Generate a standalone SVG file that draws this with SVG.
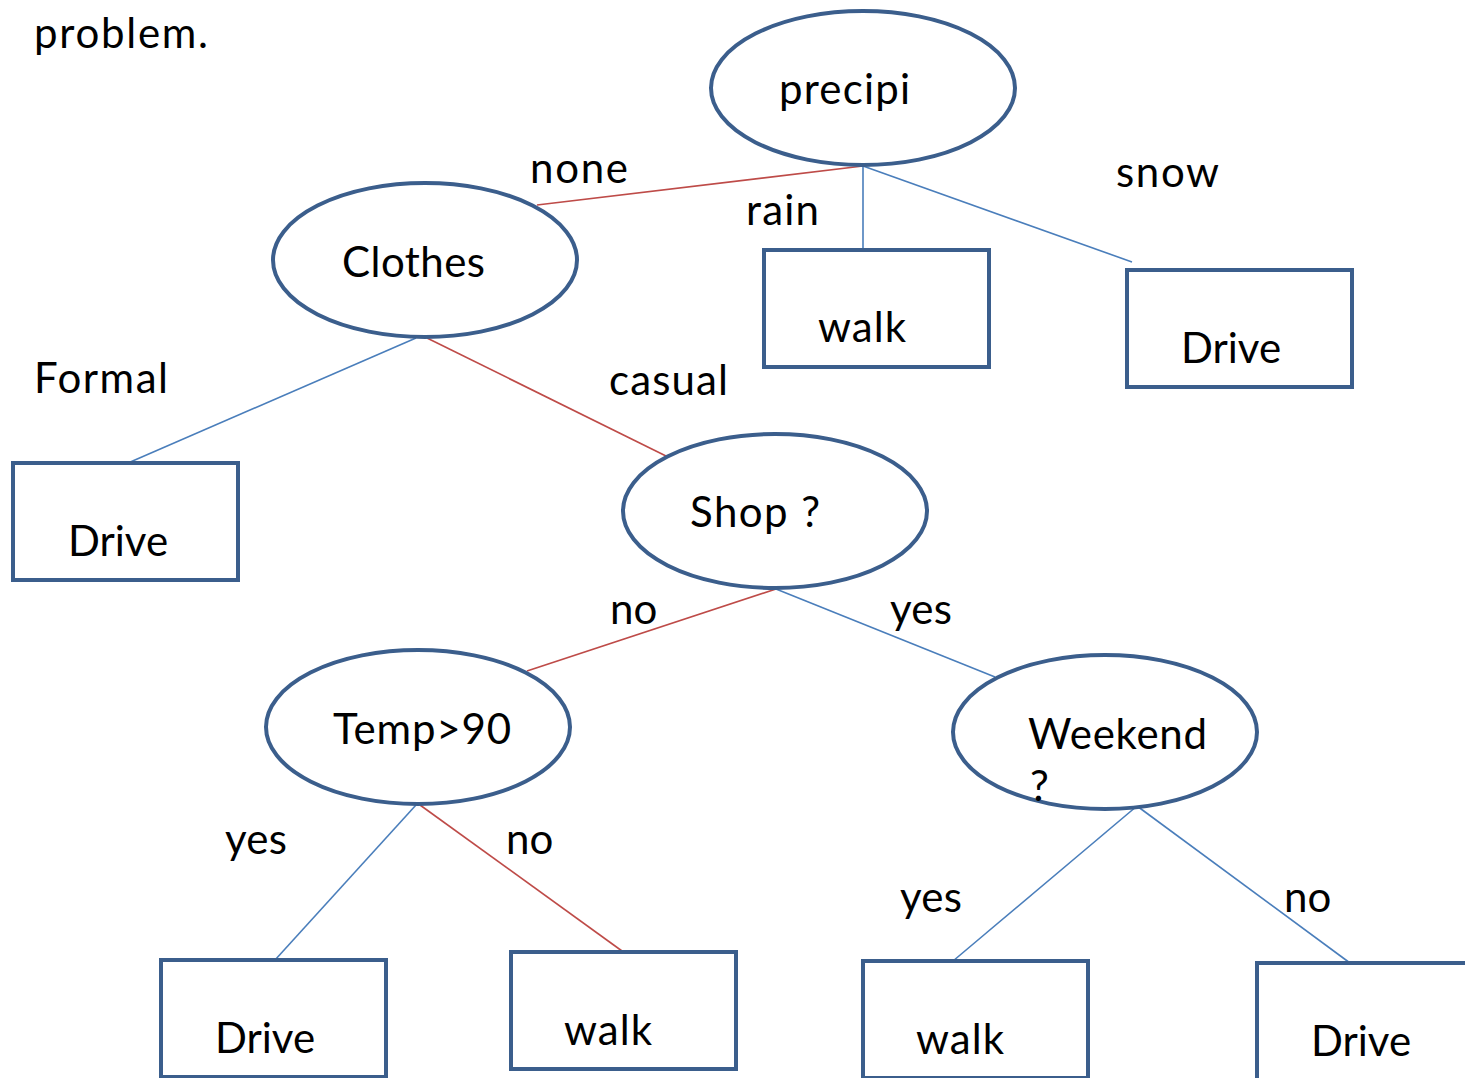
<svg xmlns="http://www.w3.org/2000/svg" width="1465" height="1078" viewBox="0 0 1465 1078">
  <style>
    .node { fill: #ffffff; stroke: #3b5e8c; stroke-width: 4; }
    .lbl { font-family: Lato, "Liberation Sans", sans-serif; font-size: 42px; fill: #000000; }
    .blue { stroke: #4a7ebb; stroke-width: 1.6; fill: none; }
    .red { stroke: #be4b48; stroke-width: 1.6; fill: none; }
  </style>
  <rect x="0" y="0" width="1465" height="1078" fill="#ffffff"/>

  <text class="lbl" x="34" y="48" textLength="174">problem.</text>

  <!-- connectors -->
  <g id="connectors">
    <line class="red" x1="863" y1="166" x2="537" y2="205"/>
    <line class="blue" x1="863" y1="166" x2="863" y2="250"/>
    <line class="blue" x1="863" y1="166" x2="1132" y2="262"/>
    <line class="blue" x1="416" y1="338" x2="128" y2="463"/>
    <line class="red" x1="427" y1="338" x2="666" y2="456"/>
    <line class="red" x1="776" y1="589" x2="527" y2="671"/>
    <line class="blue" x1="776" y1="589" x2="995" y2="677"/>
    <line class="blue" x1="416" y1="805" x2="275" y2="960"/>
    <line class="red" x1="420" y1="805" x2="622" y2="951"/>
    <line class="blue" x1="1137" y1="806" x2="953" y2="961"/>
    <line class="blue" x1="1137" y1="806" x2="1350" y2="963"/>
  </g>

  <!-- edge labels -->
  <g id="edge-labels">
    <text class="lbl" x="530" y="183" textLength="98">none</text>
    <text class="lbl" x="746" y="225" textLength="73">rain</text>
    <text class="lbl" x="1116" y="187" textLength="103">snow</text>
    <text class="lbl" x="34" y="393" textLength="134">Formal</text>
    <text class="lbl" x="609" y="395" textLength="119">casual</text>
    <text class="lbl" x="610" y="624">no</text>
    <text class="lbl" x="890" y="624" textLength="62">yes</text>
    <text class="lbl" x="225" y="854" textLength="62">yes</text>
    <text class="lbl" x="506" y="854">no</text>
    <text class="lbl" x="900" y="912" textLength="62">yes</text>
    <text class="lbl" x="1284" y="912">no</text>
  </g>

  <!-- decision nodes -->
  <g id="precipi">
    <ellipse class="node" cx="863" cy="88" rx="152" ry="77"/>
    <text class="lbl" x="779" y="104" textLength="131">precipi</text>
  </g>
  <g id="clothes">
    <ellipse class="node" cx="425" cy="260" rx="152" ry="77"/>
    <text class="lbl" x="342" y="277" textLength="143">Clothes</text>
  </g>
  <g id="shop">
    <ellipse class="node" cx="775" cy="511" rx="152" ry="77"/>
    <text class="lbl" x="690" y="527" textLength="130">Shop ?</text>
  </g>
  <g id="temp">
    <ellipse class="node" cx="418" cy="727" rx="152" ry="77"/>
    <text class="lbl" x="333" y="744" textLength="178">Temp&gt;90</text>
  </g>
  <g id="weekend">
    <ellipse class="node" cx="1105" cy="732" rx="152" ry="77"/>
    <text class="lbl" x="1028" y="749" textLength="179">Weekend</text>
    <text class="lbl" x="1030" y="801">?</text>
  </g>

  <!-- leaf nodes -->
  <g id="walk-rain">
    <rect class="node" x="764" y="250" width="225" height="117"/>
    <text class="lbl" x="818" y="342" textLength="88">walk</text>
  </g>
  <g id="drive-snow">
    <rect class="node" x="1127" y="270" width="225" height="117"/>
    <text class="lbl" x="1181" y="363">Drive</text>
  </g>
  <g id="drive-formal">
    <rect class="node" x="13" y="463" width="225" height="117"/>
    <text class="lbl" x="68" y="556">Drive</text>
  </g>
  <g id="drive-hot">
    <rect class="node" x="161" y="960" width="225" height="117"/>
    <text class="lbl" x="215" y="1053">Drive</text>
  </g>
  <g id="walk-cool">
    <rect class="node" x="511" y="952" width="225" height="117"/>
    <text class="lbl" x="564" y="1045" textLength="88">walk</text>
  </g>
  <g id="walk-weekend">
    <rect class="node" x="863" y="961" width="225" height="117"/>
    <text class="lbl" x="916" y="1054" textLength="88">walk</text>
  </g>
  <g id="drive-weekday">
    <rect class="node" x="1257" y="963" width="225" height="117"/>
    <text class="lbl" x="1311" y="1056">Drive</text>
  </g>
</svg>
